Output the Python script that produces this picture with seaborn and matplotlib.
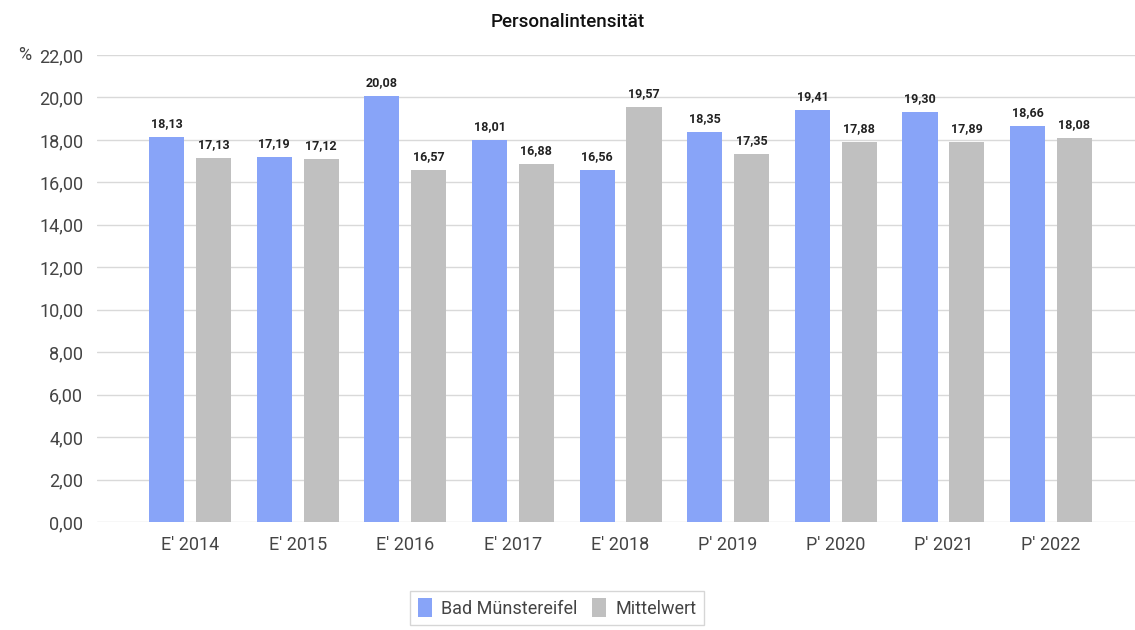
import matplotlib
matplotlib.use("Agg")
import matplotlib.pyplot as plt
import seaborn as sns
import pandas as pd

categories = ["E' 2014", "E' 2015", "E' 2016", "E' 2017", "E' 2018",
              "P' 2019", "P' 2020", "P' 2021", "P' 2022"]
bad_muenstereifel = [18.13, 17.19, 20.08, 18.01, 16.56, 18.35, 19.41, 19.30, 18.66]
mittelwert = [17.13, 17.12, 16.57, 16.88, 19.57, 17.35, 17.88, 17.89, 18.08]
series_names = ["Bad Münstereifel", "Mittelwert"]
colors = ["#88a4f8", "#c0c0c0"]

df = pd.DataFrame({
    "Jahr": categories * 2,
    "Wert": bad_muenstereifel + mittelwert,
    "Reihe": [series_names[0]] * len(categories) + [series_names[1]] * len(categories),
})

sns.set_theme(style="white")
plt.rcParams["font.family"] = ["Roboto", "DejaVu Sans"]

fig = plt.figure(figsize=(11.35, 6.3), dpi=100)
ax = fig.add_axes([0.0855, 0.1714, 0.9145, 0.7413])

sns.barplot(data=df, x="Jahr", y="Wert", hue="Reihe", palette=colors,
            width=0.87, gap=0.25, ax=ax, legend=True, saturation=1,
            linewidth=0)

for cont in ax.containers:
    labels = [f"{v:.2f}".replace(".", ",") for v in cont.datavalues]
    ax.bar_label(cont, labels=labels, padding=5, fontsize=9, fontweight="bold",
                 color="#222222")

ax.set_ylim(0, 22)
ax.set_xlim(-0.864, 8.78)
ax.set_yticks(range(0, 23, 2))
ax.set_yticklabels([f"{v},00" for v in range(0, 23, 2)])
ax.tick_params(axis="y", labelsize=13, colors="#444444", length=0, pad=10)
ax.tick_params(axis="x", labelsize=13, colors="#444444", length=0, pad=10)
ax.grid(axis="y", color="#d9d9d9", linewidth=1)
ax.set_axisbelow(True)
for s in ax.spines.values():
    s.set_visible(False)
ax.set_xlabel("")
ax.set_ylabel("")

fig.text(18 / 1135, 1 - 55 / 630, "%", fontsize=13, color="#444444",
         ha="left", va="center")
fig.text(0.5, 1 - 22 / 630, "Personalintensität", fontsize=13.5,
         fontweight="medium", ha="center", va="center", color="#111111")

ax.legend(loc="center", bbox_to_anchor=(557 / 1135, 1 - 608 / 630),
          bbox_transform=fig.transFigure, ncol=2, frameon=True, fancybox=False,
          edgecolor="#cccccc", fontsize=13, handlelength=0.8, handleheight=1.2,
          columnspacing=0.8, handletextpad=0.5, borderpad=0.4,
          labelcolor="#444444")

fig.savefig("out.png", dpi=100)
